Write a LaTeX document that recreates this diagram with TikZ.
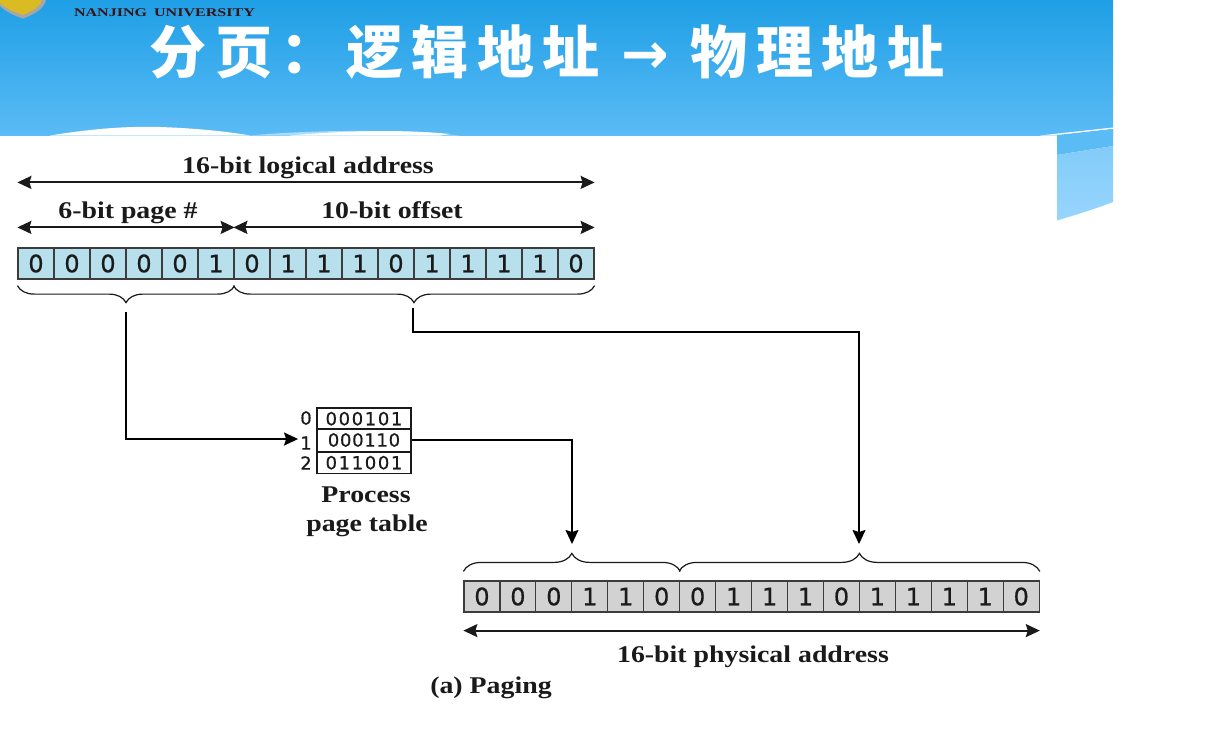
\documentclass[tikz,border=0pt]{standalone}
\usepackage{fontspec}
\setmainfont{Liberation Serif}
\newfontfamily\labfont{Liberation Serif}[FakeStretch=1.16]
\newfontfamily\unifont{Liberation Serif}[FakeStretch=1.36]
\newfontfamily\cjkfont{Noto Sans CJK SC}
\newfontfamily\digitfont{DejaVu Sans}[FakeBold=0.6]
\newfontfamily\arrowfont{DejaVu Sans}
\usetikzlibrary{arrows.meta,decorations.pathreplacing,calc}
\definecolor{bannertop}{HTML}{1F9FE6}
\definecolor{bannerbot}{HTML}{5ABBF5}
\definecolor{flaptop}{HTML}{5ABBF5}
\definecolor{flaplo}{HTML}{82CCF9}
\definecolor{flapbot}{HTML}{98D5FF}
\definecolor{bitblue}{HTML}{B8E0EC}
\definecolor{bitgrey}{HTML}{D2D2D2}
\definecolor{inkc}{HTML}{1A1A1A}
\definecolor{unic}{HTML}{3A1416}
\tikzset{
  bitbase/.style={draw=inkc!85,line width=1.2pt,minimum width=36pt,minimum height=31pt,inner sep=0pt,font=\digitfont\fontsize{24}{24}\selectfont,text=inkc},
  logbit/.style={bitbase,fill=bitblue},
  phybit/.style={bitbase,fill=bitgrey},
  rowcell/.style={draw=inkc,line width=1.3pt,minimum width=94pt,minimum height=22pt,inner sep=0pt,font=\digitfont\fontsize{18}{18}\selectfont\addfontfeature{LetterSpace=9},text=inkc},
  rowidx/.style={inner sep=0pt,font=\digitfont\fontsize{18}{18}\selectfont,text=inkc},
  lab/.style={inner sep=0pt,anchor=base,font=\labfont\fontsize{24}{24}\selectfont\bfseries,text=inkc},
  dim/.style={draw=inkc,line width=2pt,{Stealth[length=14pt,width=13pt,inset=2pt]}-{Stealth[length=14pt,width=13pt,inset=2pt]}},
  conn/.style={draw=black,line width=1.5pt,-{Stealth[length=14pt,width=13pt,inset=2pt]}},
  bracedown/.style={draw=inkc,line width=1.2pt,decorate,decoration={brace,mirror,amplitude=17pt}},
  braceup/.style={draw=inkc,line width=1.2pt,decorate,decoration={brace,amplitude=18pt}},
}
\begin{document}
\begin{tikzpicture}[x=1pt,y=-1pt]
\useasboundingbox (0,0) rectangle (1222,737);
\fill[white] (0,0) rectangle (1222,737);
% banner
\shade[top color=bannertop,bottom color=bannerbot] (0,0) rectangle (1113,135);
\fill[white] (50,135.5) .. controls (90,129) and (125,126) .. (160,127) .. controls (190,128) and (225,131) .. (250,135.5) -- cycle;
\fill[bannerbot!50!white] (250,135.5) .. controls (300,131) and (380,128) .. (460,135.5) -- cycle;
\fill[white] (290,135.5) .. controls (340,131) and (400,129) .. (450,134) -- (440,135.5) -- cycle;
% flap
\fill[white] (1040,135.5) -- (1113,127.5) -- (1113,129) -- (1057,135.5) -- cycle;
\fill[flaptop] (1057,135) -- (1113,129) -- (1113,146) -- (1057,155) -- cycle;
\shade[top color=flaplo,bottom color=flapbot] (1057,155) -- (1113,146) -- (1113,202) .. controls (1095,209) and (1075,215) .. (1057,220.5) -- cycle;
% logo
\fill[black!35] (0,0) -- (46,0) .. controls (44,8) and (36,14) .. (23,18.5) .. controls (15,16) and (6,12) .. (0,6) -- cycle;
\fill[yellow!70!orange!85!black] (0,0) -- (42,0) .. controls (40,6) and (33,11) .. (23,15) .. controls (15,12) and (6,9) .. (0,3) -- cycle;
\node[inner sep=0pt,font=\unifont\fontsize{11.8}{12}\selectfont\bfseries,text=unic] (uni) at (164.5,13) {NANJING\hspace{7pt}UNIVERSITY};
% title
\node[inner sep=0pt,text=white,font=\cjkfont\bfseries\fontsize{57}{59}\selectfont\addfontfeature{LetterSpace=15}] (title) at (547,52) {分页：逻辑地址 {\arrowfont\bfseries →} 物理地址};
% logical bits
\foreach \b [count=\i] in {0,0,0,0,0,1,0,1,1,1,0,1,1,1,1,0}
  \node[logbit] (l\i) at ({18+36*(\i-0.5)},263.5) {\b};
% physical bits
\foreach \b [count=\i] in {0,0,0,1,1,0,0,1,1,1,0,1,1,1,1,0}
  \node[phybit] (p\i) at ({464+35.95*(\i-0.5)},596.5) {\b};
% labels
\node[lab] (tlog) at (308,173) {16-bit logical address};
\node[lab] (tpage) at (128,218) {6-bit page \#};
\node[lab] (toff) at (392,218) {10-bit offset};
\node[lab] (tproc) at (366,502) {Process};
\node[lab] (tpt) at (367,531) {page table};
\node[lab] (tphys) at (753,662) {16-bit physical address};
\node[lab] (tfig) at (491,693) {(a) Paging};
% dimension arrows
\draw[dim] ([yshift=65pt]l1.north west) -- ([yshift=65pt]l16.north east);
\draw[dim] ([yshift=20pt]l1.north west) -- ([yshift=20pt]l6.north east);
\draw[dim] ([yshift=20pt]l7.north west) -- ([yshift=20pt]l16.north east);
\draw[dim] ([yshift=-18pt]p1.south west) -- ([yshift=-18pt]p16.south east);
% braces
\draw[bracedown] ([yshift=-6pt]l1.south west) -- ([yshift=-6pt]l6.south east);
\draw[bracedown] ([yshift=-6pt]l7.south west) -- ([yshift=-6pt]l16.south east);
\draw[braceup] ([yshift=9pt]p1.north west) -- ([yshift=9pt]p6.north east);
\draw[braceup] ([yshift=9pt]p7.north west) -- ([yshift=9pt]p16.north east);
% page table
\node[rowcell,minimum height=21.5pt] (r0) at (364,418.7) {000101};
\node[rowcell,minimum height=22.5pt] (r1) at (364,440) {\addfontfeature{LetterSpace=4}000110};
\node[rowcell,minimum height=21.5pt] (r2) at (364,462.7) {011001};
\node[rowidx] (i0) at (306,418) {0};
\node[rowidx] (i1) at (306,443) {1};
\node[rowidx] (i2) at (306,463) {2};
% connectors
\coordinate (bA) at (126,312);
\coordinate (bB) at (413,308);
\coordinate (tA) at (572,544);
\coordinate (tB) at (859,544);
\draw[conn] (bA) |- ([yshift=4pt,xshift=-2pt]i1.west);
\draw[conn] (r1.east) -| (tA);
\draw[conn] (bB) -- (413,332) -| (tB);
\end{tikzpicture}
\end{document}
